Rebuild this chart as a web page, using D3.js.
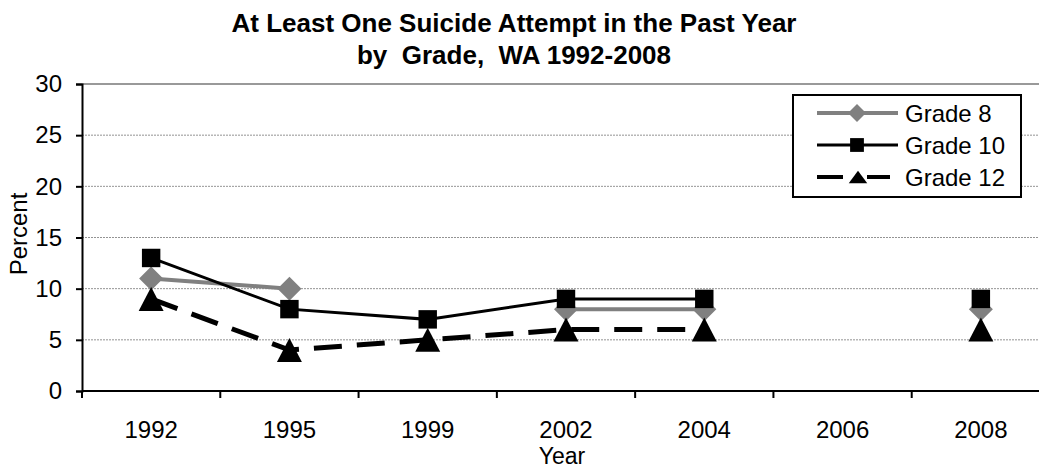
<!DOCTYPE html>
<html>
<head>
<meta charset="utf-8">
<script src="https://cdn.jsdelivr.net/npm/d3@7/dist/d3.min.js"></script>
<style>
  html, body { margin: 0; padding: 0; background: #fff; }
  svg { display: block; font-family: "Liberation Sans", Arial, sans-serif; }
</style>
</head>
<body>
<svg id="chart" width="1039" height="469"></svg>
<script>
// Survey years and percentages per grade (null = not surveyed)
const years = ["1992", "1995", "1999", "2002", "2004", "2006", "2008"];
const grade8 = [11, 10, null, 8, 8, null, 8];
const grade10 = [13, 8, 7, 9, 9, null, 9];
const grade12 = [9, 4, 5, 6, 6, null, 6];
const yTicks = [0, 5, 10, 15, 20, 25, 30];
const seriesNames = ["Grade 8", "Grade 10", "Grade 12"];
const titleLines = ["At Least One Suicide Attempt in the Past Year", "by  Grade,  WA 1992-2008"];

const svg = d3.select("#chart");
const plotLeft = 82, plotRight = 1050, plotTop = 84, plotBottom = 391;
const fontSize = 24;

const x = d3.scaleBand().domain(years).range([plotLeft, plotRight]);
const y = d3.scaleLinear().domain([0, 30]).range([plotBottom, plotTop]);

// Marker shapes centred on their bounding box
const diamond = {
  draw(ctx, size) {
    const r = Math.sqrt(size) / 2;
    ctx.moveTo(0, -r); ctx.lineTo(r, 0); ctx.lineTo(0, r); ctx.lineTo(-r, 0); ctx.closePath();
  }
};
const triangle = {
  draw(ctx, size) {
    const r = Math.sqrt(size) / 2;
    ctx.moveTo(0, -r); ctx.lineTo(r, r); ctx.lineTo(-r, r); ctx.closePath();
  }
};

// Title
svg.append("g").selectAll("text").data(titleLines).join("text")
  .attr("x", 514).attr("y", (d, i) => 32 + i * 32)
  .attr("text-anchor", "middle")
  .attr("font-size", 26).attr("font-weight", "bold")
  .style("white-space", "pre")
  .text(d => d);

// Horizontal gridlines
svg.append("g").selectAll("line").data(yTicks.filter(t => t > 0)).join("line")
  .attr("x1", plotLeft).attr("x2", 1039)
  .attr("y1", d => y(d)).attr("y2", d => y(d))
  .attr("stroke", d => d === 30 ? "#999" : "#777")
  .attr("stroke-width", d => d === 30 ? 2 : 0.8)
  .attr("stroke-dasharray", d => d === 30 ? null : "2,1");

// Y axis
const yAxis = svg.append("g").attr("transform", `translate(${plotLeft},0)`)
  .call(d3.axisLeft(y).tickValues(yTicks).tickSize(6).tickPadding(14));
yAxis.select(".domain").attr("stroke", "#000").attr("stroke-width", 2);
yAxis.selectAll(".tick line").attr("stroke", "#000").attr("stroke-width", 2);
yAxis.selectAll(".tick text").attr("font-size", fontSize).attr("fill", "#000")
  .attr("font-family", "Liberation Sans, Arial, sans-serif");

// X axis with ticks at category boundaries
const xAxis = svg.append("g").attr("transform", `translate(0,${plotBottom})`);
xAxis.append("line").attr("x1", plotLeft).attr("x2", 1039).attr("y1", 0).attr("y2", 0)
  .attr("stroke", "#000").attr("stroke-width", 2);
xAxis.selectAll("line.tk").data(years).join("line").attr("class", "tk")
  .attr("x1", d => x(d)).attr("x2", d => x(d)).attr("y1", 0).attr("y2", 7)
  .attr("stroke", "#000").attr("stroke-width", 2);
xAxis.selectAll("text").data(years).join("text")
  .attr("x", d => x(d) + x.bandwidth() / 2).attr("y", 47)
  .attr("text-anchor", "middle").attr("font-size", fontSize)
  .text(d => d);

// Axis titles
svg.append("text").attr("x", 562).attr("y", 464).attr("text-anchor", "middle")
  .attr("font-size", 23).text("Year");
svg.append("text").attr("transform", "translate(27,234) rotate(-90)")
  .attr("text-anchor", "middle").attr("font-size", fontSize).text("Percent");

const cx = (d, i) => x(years[i]) + x.bandwidth() / 2;
const line = d3.line().defined(d => d !== null).x(cx).y(d => y(d));

const series = [
  { name: seriesNames[0], values: grade8, color: "#808080", width: 4, dash: null, symbol: diamond, size: 576, sx: 1 },
  { name: seriesNames[1], values: grade10, color: "#000", width: 3, dash: null, symbol: d3.symbolSquare, size: 340, sx: 1 },
  { name: seriesNames[2], values: grade12, color: "#000", width: 5, dash: "28,15", symbol: triangle, size: 576, sx: 1.04 }
];

const marks = svg.append("g");
series.forEach(s => {
  marks.append("path").datum(s.values)
    .attr("d", line).attr("fill", "none")
    .attr("stroke", s.color).attr("stroke-width", s.width)
    .attr("stroke-dasharray", s.dash);
});
series.forEach(s => {
  marks.append("g").selectAll("path")
    .data(s.values.map((v, i) => ({ v, i })).filter(d => d.v !== null))
    .join("path")
    .attr("transform", d => `translate(${cx(null, d.i)},${y(d.v)}) scale(${s.sx},1)`)
    .attr("d", d3.symbol().type(s.symbol).size(s.size))
    .attr("fill", s.color);
});

// Legend
const lg = svg.append("g");
lg.append("rect").attr("x", 793).attr("y", 95).attr("width", 228).attr("height", 102)
  .attr("fill", "#fff").attr("stroke", "#000").attr("stroke-width", 2);
series.forEach((s, i) => {
  const ly = 113 + i * 32;
  const isDashed = !!s.dash;
  lg.append("line").attr("x1", 817).attr("x2", isDashed ? 890 : 898).attr("y1", ly).attr("y2", ly)
    .attr("stroke", s.color).attr("stroke-width", s.width === 5 ? 4 : s.width)
    .attr("stroke-dasharray", isDashed ? "26,50" : null);
  if (isDashed) {
    lg.append("line").attr("x1", 867).attr("x2", 890).attr("y1", ly).attr("y2", ly)
      .attr("stroke", s.color).attr("stroke-width", 4);
  }
  lg.append("path").attr("transform", `translate(${isDashed ? 858 : 857},${ly}) scale(${s.sx},${isDashed ? 0.7 : 1})`)
    .attr("d", d3.symbol().type(s.symbol).size(s.size * (isDashed ? 0.55 : 0.56)))
    .attr("fill", s.color);
  lg.append("text").attr("x", 905).attr("y", ly + 9).attr("font-size", fontSize).text(s.name);
});
</script>
</body>
</html>
